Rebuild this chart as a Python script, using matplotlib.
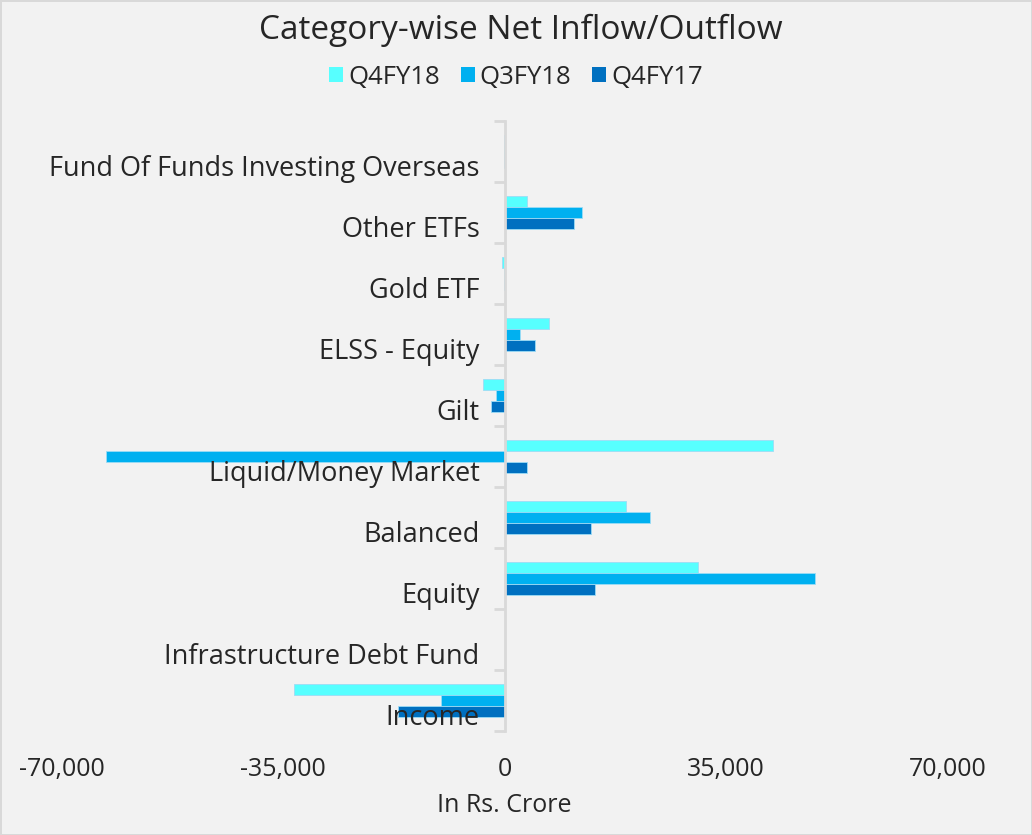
import matplotlib.pyplot as plt
import matplotlib.transforms as mtransforms
from matplotlib.patches import Patch
import numpy as np

# data, bottom category first
categories = ["Income", "Infrastructure Debt Fund", "Equity", "Balanced",
              "Liquid/Money Market", "Gilt", "ELSS - Equity", "Gold ETF",
              "Other ETFs", "Fund Of Funds Investing Overseas"]
q4fy18 = [-33200, 50, 30600, 19200, 42400, -3400, 7000, -400, 3500, -100]
q3fy18 = [-10000, 20, 49000, 23000, -63000, -1400, 2500, -150, 12200, -80]
q4fy17 = [-16800, 10, 14300, 13600, 3500, -2100, 4800, -100, 11000, -50]
series_names = ["Q4FY18", "Q3FY18", "Q4FY17"]
colors = ["#57FFFF", "#00B0F0", "#0070C0"]
x_ticks = [-70000, -35000, 0, 35000, 70000]

plt.rcParams["font.family"] = ["Open Sans", "DejaVu Sans"]
txt = "#262626"

fig = plt.figure(figsize=(10.32, 8.35), dpi=100)
fig.patch.set_facecolor("#F2F2F2")
fig.patch.set_edgecolor("#D9D9D9")
fig.patch.set_linewidth(2)

ax = fig.add_axes([61.5 / 1032, 1 - 731 / 835, 886 / 1032, 610 / 835])
ax.set_facecolor("#F2F2F2")

y = np.arange(len(categories))
h = 0.18
for vals, off, col in zip([q4fy18, q3fy18, q4fy17], [h, 0, -h], colors):
    ax.barh(y + off, vals, height=h, color=col, edgecolor="#9DDCF5", linewidth=0.6)

ax.set_xlim(-70000, 70000)
ax.set_ylim(-0.5, len(categories) - 0.5)
ax.set_xticks(x_ticks)
ax.set_xticklabels([f"{v:,}" for v in x_ticks])
ax.tick_params(axis="x", length=0, labelsize=18, labelcolor=txt, pad=19)

for s in ["top", "right", "bottom"]:
    ax.spines[s].set_visible(False)
ax.spines["left"].set_position(("data", 0))
ax.spines["left"].set_color("#D9D9D9")
ax.spines["left"].set_linewidth(2)

ax.set_yticks(y)
ax.set_yticklabels(categories)
ax.set_yticks(np.arange(len(categories) + 1) - 0.5, minor=True)
ax.tick_params(axis="y", which="major", length=0, labelsize=19.5,
               labelcolor=txt, pad=18)
ax.tick_params(axis="y", which="minor", length=8, width=2, color="#D9D9D9")

shift = mtransforms.ScaledTranslation(0, -14 / 100, fig.dpi_scale_trans)
for lab in ax.get_yticklabels():
    lab.set_transform(lab.get_transform() + shift)

ax.set_xlabel("In Rs. Crore", fontsize=18, color=txt, labelpad=8)

fig.text(0.505, 1 - 30 / 835, "Category-wise Net Inflow/Outflow", ha="center",
         va="center", fontsize=24, color=txt)
handles = [Patch(facecolor=c, label=n) for c, n in zip(colors, series_names)]
fig.legend(handles=handles, loc="center", bbox_to_anchor=(0.5, 1 - 77 / 835),
           ncol=3, frameon=False, fontsize=18.5, handlelength=0.55, handleheight=0.55,
           handletextpad=0.2, columnspacing=0.8, labelcolor=txt)

fig.savefig("out.png", dpi=100, facecolor=fig.get_facecolor(), edgecolor=fig.get_edgecolor())
